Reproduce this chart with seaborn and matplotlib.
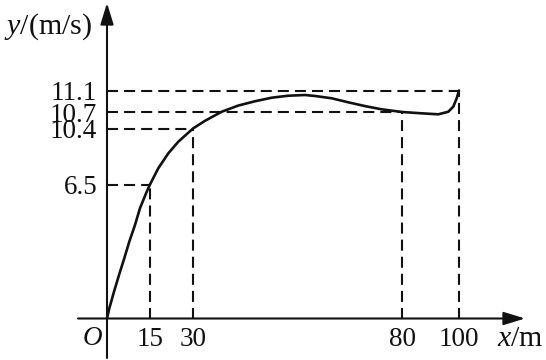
import numpy as np
import matplotlib
matplotlib.use("Agg")
import matplotlib.pyplot as plt
import seaborn as sns

# ---- data ----
curve_x = [0, 0.80, 2.44, 4.19, 6.03, 7.78, 9.77, 11.51, 13.85, 15.0, 17.89, 21.38, 24.87,
           30.0, 32.87, 36.87, 40.84, 44.83, 48.83, 52.80, 56.79, 59.19, 63.18, 67.15,
           71.15, 75.14, 80.0, 86.91, 92.74, 96.25, 98.0, 99.19, 100.0]
curve_y = [0, 0.49, 1.30, 2.11, 2.92, 3.73, 4.54, 5.35, 6.15, 6.5, 7.63, 8.67, 9.48,
           10.4, 10.54, 10.705, 10.82, 10.90, 10.966, 11.003, 11.016, 10.998, 10.955, 10.88,
           10.81, 10.75, 10.7, 10.676, 10.658, 10.705, 10.80, 10.955, 11.1]
key_x = [15, 30, 80, 100]
key_y = [6.5, 10.4, 10.7, 11.1]
x_tick_labels = ["15", "30", "80", "100"]
y_tick_labels = ["6.5", "10.4", "10.7", "11.1"]

# ---- the drawing is not to scale: piecewise-linear axis scales ----
X_KNOTS = np.array([0, 15, 30, 80, 100], float)
X_PIX = np.array([0, 43, 86, 295, 352], float)
Y_KNOTS = np.array([0, 6.5, 10.4, 10.7, 11.1], float)
Y_PIX = np.array([0, 134, 190, 206.5, 228], float)


def piecewise(v, xs, ys):
    v = np.asarray(v, float)
    out = np.interp(v, xs, ys)
    s_lo = (ys[1] - ys[0]) / (xs[1] - xs[0])
    s_hi = (ys[-1] - ys[-2]) / (xs[-1] - xs[-2])
    out = np.where(v < xs[0], ys[0] + (v - xs[0]) * s_lo, out)
    out = np.where(v > xs[-1], ys[-1] + (v - xs[-1]) * s_hi, out)
    return out


sns.set_style("white")
plt.rcParams["font.family"] = ["Liberation Serif", "DejaVu Serif"]
plt.rcParams["mathtext.fontset"] = "custom"
plt.rcParams["mathtext.it"] = "Liberation Serif:italic"
plt.rcParams["mathtext.rm"] = "Liberation Serif"

W, H = 546, 360
ox, oy = 107, 318.5  # origin in pixels (from top-left)
fig = plt.figure(figsize=(W / 100, H / 100), dpi=100)
ax = fig.add_axes([ox / W, (H - oy) / H, (W - ox) / W, oy / H])

ax.set_xscale("function", functions=(lambda v: piecewise(v, X_KNOTS, X_PIX),
                                     lambda p: piecewise(p, X_PIX, X_KNOTS)))
ax.set_yscale("function", functions=(lambda v: piecewise(v, Y_KNOTS, Y_PIX),
                                     lambda p: piecewise(p, Y_PIX, Y_KNOTS)))
ax.set_xlim(0, float(piecewise(W - ox, X_PIX, X_KNOTS)))
ax.set_ylim(0, float(piecewise(oy, Y_PIX, Y_KNOTS)))

ink = "#111111"
dash = (0, (5.3, 2.9))
for xv, yv in zip(key_x, key_y):
    ax.plot([0, xv], [yv, yv], color=ink, lw=1.5, linestyle=dash, clip_on=False)
    ax.plot([xv, xv], [0, yv], color=ink, lw=1.5, linestyle=dash, clip_on=False)

sns.lineplot(x=curve_x, y=curve_y, ax=ax, color=ink, lw=1.9, clip_on=False)
for ln in ax.lines[-1:]:
    ln.set_solid_joinstyle("round")
    ln.set_solid_capstyle("round")

for s in ax.spines.values():
    s.set_visible(False)
ax.grid(False)

fs = 19.5
lfs = 21.5
ax.set_xticks(key_x, labels=x_tick_labels)
ax.set_yticks(key_y, labels=y_tick_labels)
ax.tick_params(axis="both", length=0, labelsize=fs, colors=ink)
ax.tick_params(axis="y", pad=7)
ax.tick_params(axis="x", pad=6)

arrow = dict(arrowstyle="-|>,head_length=0.65,head_width=0.2", lw=1.5, color=ink,
             shrinkA=0, shrinkB=0, mutation_scale=20)
# x axis
ax.annotate("", xy=(418 / 439, 0), xytext=(-29 / 439, 0),
            xycoords=ax.get_yaxis_transform(), textcoords=ax.get_yaxis_transform(),
            arrowprops=arrow, annotation_clip=False)
# y axis
ax.annotate("", xy=(0, (oy - 3) / oy), xytext=(0, (oy - 358) / oy),
            xycoords=ax.get_xaxis_transform(), textcoords=ax.get_xaxis_transform(),
            arrowprops=arrow, annotation_clip=False)

ax.annotate("O", xy=(0, 0), xytext=(-10.8, -14.5), textcoords="offset points",
            ha="center", va="center", fontsize=fs, fontstyle="italic", color=ink,
            annotation_clip=False)
ax.annotate("$y$/(m/s)", xy=(0, 0), xytext=(-10.8, 209.9), textcoords="offset points",
            ha="right", va="center", fontsize=lfs, color=ink, annotation_clip=False)
ax.annotate("$x$/m", xy=(0, 0), xytext=(280.8, -14.5), textcoords="offset points",
            ha="left", va="center", fontsize=lfs, color=ink, annotation_clip=False)

fig.savefig("out.png", dpi=100)
